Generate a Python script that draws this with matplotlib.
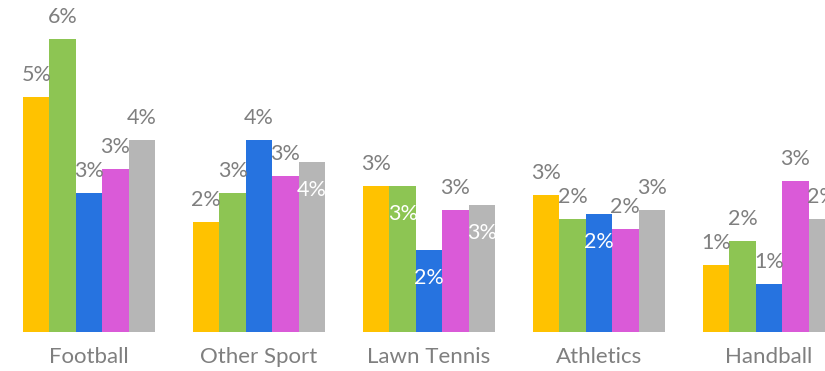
import matplotlib
matplotlib.use("Agg")
import matplotlib.pyplot as plt
import numpy as np

plt.rcParams['font.family'] = ['Lato', 'DejaVu Sans']

# Share of participants by sport, five series per sport (percent)
categories = ["Football", "Other Sport", "Lawn Tennis", "Athletics", "Handball"]
series_a = [4.9, 2.3, 3.05, 2.85, 1.4]
series_b = [6.1, 2.9, 3.05, 2.35, 1.9]
series_c = [2.9, 4.0, 1.7, 2.45, 1.0]
series_d = [3.4, 3.25, 2.55, 2.15, 3.15]
series_e = [4.0, 3.55, 2.65, 2.55, 2.35]

series = [series_a, series_b, series_c, series_d, series_e]
colors = ["#FFC200", "#8DC553", "#2673E0", "#DA5AD8", "#B6B6B6"]

# labels drawn inside the bar top (series index, category index)
inside_labels = {(4, 1), (1, 2), (2, 2), (4, 2), (2, 3)}

W, H = 825, 371
fig = plt.figure(figsize=(W / 100, H / 100), dpi=100)
base_px = 332
ax = fig.add_axes([0, (H - base_px) / H, 1, base_px / H])

x = np.arange(len(categories))
bw = 0.155
px_per_unit = 48.0
label_color = "#7F7F7F"

for i, (vals, col) in enumerate(zip(series, colors)):
    pos = x + (i - 2) * bw
    ax.bar(pos, vals, width=bw, color=col, linewidth=0)
    for j, (p, v) in enumerate(zip(pos, vals)):
        txt = f"{v:.0f}%"
        if (i, j) in inside_labels:
            ax.annotate(txt, (p, v), xytext=(0, -28), textcoords="offset pixels",
                        ha="center", va="center", color="white", fontsize=15.5)
        else:
            ax.annotate(txt, (p, v), xytext=(0, 22), textcoords="offset pixels",
                        ha="center", va="center", color=label_color, fontsize=15.5)

ax.set_xlim(-89 / 170, (W - 89) / 170)
ax.set_ylim(0, base_px / px_per_unit)
ax.set_xticks(x)
ax.set_xticklabels(categories, fontsize=16, color=label_color)
ax.tick_params(axis="x", length=0, pad=11)
ax.set_yticks([])
for s in ax.spines.values():
    s.set_visible(False)

fig.savefig("out.png", dpi=100)
